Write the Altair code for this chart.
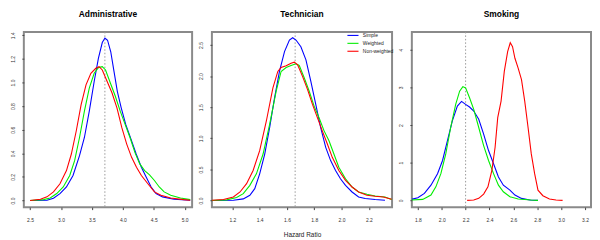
import altair as alt
import pandas as pd

SERIES = ["Simple", "Weighted", "Non-weighted"]
COLORS = ["#0000FF", "#00EE00", "#FF0000"]
WIDTHS = [1.1, 1.1, 2.2]

# ---------- Administrative ----------
adm_simple_x = [2.5, 2.774, 2.879, 2.984, 3.089, 3.195, 3.3, 3.379, 3.458, 3.537, 3.605, 3.668, 3.711, 3.753, 3.805, 3.858, 3.911, 3.974, 4.047, 4.132, 4.216, 4.3, 4.379, 4.458, 4.537, 4.642, 4.826, 5.09]
adm_simple_y = [0.0, 0.003, 0.02, 0.059, 0.115, 0.212, 0.38, 0.534, 0.757, 1.008, 1.204, 1.338, 1.377, 1.358, 1.26, 1.092, 0.925, 0.785, 0.645, 0.52, 0.394, 0.282, 0.198, 0.115, 0.059, 0.031, 0.011, 0.003]
adm_weighted_x = [2.5, 2.721, 2.826, 2.932, 3.037, 3.142, 3.221, 3.3, 3.379, 3.458, 3.537, 3.605, 3.668, 3.721, 3.8, 3.879, 3.958, 4.037, 4.116, 4.195, 4.274, 4.353, 4.432, 4.511, 4.589, 4.668, 4.774, 4.932, 5.09]
adm_weighted_y = [0.0, 0.008, 0.022, 0.059, 0.115, 0.212, 0.338, 0.534, 0.757, 0.953, 1.078, 1.126, 1.134, 1.106, 0.994, 0.883, 0.757, 0.645, 0.534, 0.408, 0.31, 0.254, 0.218, 0.17, 0.115, 0.073, 0.045, 0.022, 0.008]
adm_nonw_x = [2.5, 2.668, 2.774, 2.879, 2.984, 3.089, 3.168, 3.247, 3.326, 3.405, 3.484, 3.563, 3.616, 3.668, 3.747, 3.826, 3.905, 3.984, 4.063, 4.142, 4.221, 4.3, 4.405, 4.511, 4.616, 4.774, 4.984, 5.09]
adm_nonw_y = [0.0, 0.011, 0.031, 0.073, 0.142, 0.254, 0.394, 0.589, 0.813, 0.98, 1.078, 1.12, 1.134, 1.106, 1.008, 0.911, 0.785, 0.617, 0.478, 0.366, 0.282, 0.212, 0.142, 0.073, 0.045, 0.022, 0.008, 0.003]

# ---------- Technician ----------
tec_simple_x = [1.05, 1.207, 1.28, 1.328, 1.364, 1.4, 1.437, 1.473, 1.509, 1.545, 1.582, 1.618, 1.642, 1.666, 1.702, 1.739, 1.775, 1.811, 1.847, 1.884, 1.92, 1.956, 1.992, 2.029, 2.077, 2.125, 2.173, 2.246, 2.318]
tec_simple_y = [0.0, 0.005, 0.027, 0.085, 0.191, 0.43, 0.748, 1.173, 1.651, 2.075, 2.394, 2.58, 2.617, 2.58, 2.473, 2.261, 1.916, 1.545, 1.173, 0.855, 0.642, 0.483, 0.35, 0.244, 0.138, 0.058, 0.032, 0.016, 0.005]
tec_weighted_x = [1.05, 1.159, 1.231, 1.28, 1.328, 1.376, 1.425, 1.473, 1.521, 1.557, 1.594, 1.63, 1.666, 1.69, 1.727, 1.763, 1.799, 1.835, 1.872, 1.908, 1.944, 1.98, 2.029, 2.077, 2.125, 2.186, 2.246, 2.318, 2.367]
tec_weighted_y = [0.0, 0.011, 0.048, 0.111, 0.244, 0.43, 0.748, 1.226, 1.757, 2.075, 2.139, 2.171, 2.198, 2.171, 1.969, 1.757, 1.518, 1.332, 1.12, 0.961, 0.748, 0.536, 0.35, 0.218, 0.138, 0.101, 0.074, 0.058, 0.016]
tec_nonw_x = [1.05, 1.135, 1.207, 1.256, 1.304, 1.352, 1.4, 1.449, 1.497, 1.533, 1.557, 1.594, 1.63, 1.654, 1.678, 1.714, 1.751, 1.787, 1.823, 1.859, 1.896, 1.932, 1.98, 2.029, 2.077, 2.125, 2.186, 2.246, 2.306, 2.367]
tec_nonw_y = [0.005, 0.016, 0.058, 0.138, 0.271, 0.483, 0.801, 1.279, 1.81, 2.075, 2.139, 2.166, 2.208, 2.224, 2.182, 1.996, 1.783, 1.545, 1.332, 1.12, 0.908, 0.695, 0.483, 0.324, 0.218, 0.138, 0.085, 0.069, 0.058, 0.021]

# ---------- Smoking ----------
smk_simple_x = [1.745, 1.8, 1.855, 1.91, 1.965, 2.007, 2.048, 2.089, 2.131, 2.166, 2.2, 2.233, 2.268, 2.31, 2.351, 2.392, 2.434, 2.475, 2.516, 2.571, 2.613, 2.668, 2.737, 2.806]
smk_simple_y = [0.026, 0.07, 0.184, 0.403, 0.709, 1.059, 1.584, 2.109, 2.503, 2.626, 2.547, 2.477, 2.372, 2.153, 1.759, 1.322, 0.972, 0.621, 0.403, 0.271, 0.14, 0.053, 0.009, 0.0]
smk_weighted_x = [1.745, 1.841, 1.91, 1.951, 1.993, 2.034, 2.075, 2.117, 2.15, 2.177, 2.2, 2.233, 2.268, 2.31, 2.351, 2.392, 2.434, 2.475, 2.516, 2.571, 2.64, 2.75, 2.806]
smk_weighted_y = [0.009, 0.026, 0.14, 0.359, 0.709, 1.234, 1.934, 2.547, 2.897, 3.02, 2.985, 2.722, 2.416, 1.934, 1.453, 1.059, 0.709, 0.403, 0.228, 0.096, 0.035, 0.009, 0.0]
smk_nonw_x = [2.213, 2.268, 2.31, 2.351, 2.387, 2.42, 2.447, 2.469, 2.497, 2.524, 2.552, 2.574, 2.593, 2.613, 2.64, 2.668, 2.695, 2.723, 2.75, 2.778, 2.806, 2.847, 2.902, 2.957, 3.012]
smk_nonw_y = [0.0, 0.009, 0.053, 0.166, 0.359, 0.797, 1.409, 2.197, 2.635, 3.422, 3.947, 4.184, 4.079, 3.772, 3.51, 3.203, 2.635, 1.934, 1.234, 0.709, 0.271, 0.123, 0.035, 0.009, 0.0]

# reference (dotted) lines
ref_values = [3.71, 1.66, 2.2]

# axes
titles = ["Administrative", "Technician", "Smoking"]
x_domains = [[2.4, 5.12], [1.05, 2.37], [1.75, 3.25]]
y_domains = [[-0.056, 1.428], [-0.106, 2.71], [-0.18, 4.47]]
x_ticks = [[2.5, 3.0, 3.5, 4.0, 4.5, 5.0], [1.2, 1.4, 1.6, 1.8, 2.0, 2.2], [1.8, 2.0, 2.2, 2.4, 2.6, 2.8, 3.0, 3.2]]
y_ticks = [[0.0, 0.2, 0.4, 0.6, 0.8, 1.0, 1.2, 1.4], [0.0, 0.5, 1.0, 1.5, 2.0, 2.5], [0, 1, 2, 3, 4]]
y_formats = [".1f", ".1f", "d"]
x_titles = ["", "Hazard Ratio", ""]
widths = [170, 182, 181]

curves = [
    [(adm_simple_x, adm_simple_y), (adm_weighted_x, adm_weighted_y), (adm_nonw_x, adm_nonw_y)],
    [(tec_simple_x, tec_simple_y), (tec_weighted_x, tec_weighted_y), (tec_nonw_x, tec_nonw_y)],
    [(smk_simple_x, smk_simple_y), (smk_weighted_x, smk_weighted_y), (smk_nonw_x, smk_nonw_y)],
]

FONT = "Liberation Sans"
color_scale = alt.Scale(domain=SERIES, range=COLORS)
sw_scale = alt.Scale(domain=SERIES, range=WIDTHS)


def make_panel(i):
    frames = []
    for s, (xs, ys) in zip(SERIES, curves[i]):
        frames.append(pd.DataFrame({"x": xs, "y": ys, "series": s}))
    df = pd.concat(frames, ignore_index=True)
    xenc = alt.X("x:Q", scale=alt.Scale(domain=x_domains[i], nice=False, zero=False),
                 axis=alt.Axis(values=x_ticks[i], format=".1f", title=x_titles[i],
                               grid=False, domain=False, tickSize=2.5, labelPadding=8.5,
                               labelFontSize=5, titleFontSize=6.5, titleFontWeight="normal",
                               titlePadding=9, labelColor="#333", tickColor="#444",
                               titleColor="#222", labelFont=FONT, titleFont=FONT,
                               labelOverlap=False, labelFlush=False))
    yenc = alt.Y("y:Q", scale=alt.Scale(domain=y_domains[i], nice=False, zero=False),
                 axis=alt.Axis(values=y_ticks[i], format=y_formats[i], title="",
                               grid=False, domain=False, tickSize=2, labelPadding=6,
                               labelFontSize=5, labelAngle=270, labelAlign="center",
                               labelBaseline="bottom", labelColor="#333", tickColor="#444",
                               labelFont=FONT, minExtent=15, maxExtent=15,
                               labelOverlap=False, labelFlush=False))
    layers = []
    rule = alt.Chart(pd.DataFrame({"x": [ref_values[i]]})).mark_rule(
        color="#999999", strokeDash=[1.5, 2], strokeWidth=1
    ).encode(x=xenc)
    layers.append(rule)
    for s in SERIES:
        layers.append(
            alt.Chart(df).transform_filter(alt.datum.series == s).mark_line(clip=True).encode(
                x=xenc, y=yenc,
                color=alt.Color("series:N", scale=color_scale, sort=SERIES,
                                legend=alt.Legend(title=None, orient="none", legendX=328, legendY=-1,
                                                  symbolType="M-1.6,0H1.6", symbolSize=49,
                                                  symbolStrokeWidth=1.2, labelFontSize=5,
                                                  labelFont=FONT, labelColor="#222",
                                                  labelOffset=5.5, rowPadding=0, padding=0)),
                strokeWidth=alt.StrokeWidth("series:N", scale=sw_scale, legend=None),
            )
        )
    return alt.layer(*layers).properties(
        width=widths[i], height=177,
        title=alt.TitleParams(titles[i], fontSize=8.5, fontWeight="bold", font=FONT,
                              offset=13, anchor="middle", color="#000"),
    )


chart = alt.hconcat(*[make_panel(i) for i in range(3)], spacing=3).properties(
    padding=0
).configure(background="white").configure_view(stroke="#8a8a8a", strokeWidth=2)

chart.save("out.html", embed_options={"renderer": "svg", "actions": False})
